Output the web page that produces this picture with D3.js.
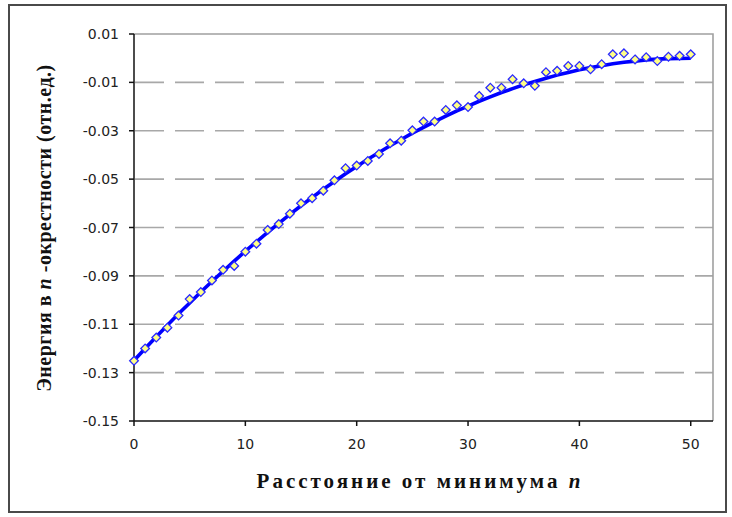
<!DOCTYPE html>
<html>
<head>
<meta charset="utf-8">
<script src="https://cdn.jsdelivr.net/npm/d3@7"></script>
<style>
  html, body { margin: 0; padding: 0; background: #fff; }
  svg { display: block; }
  .tick-label { font-family: "DejaVu Sans", Verdana, sans-serif; font-size: 14px; fill: #222; }
  .title { font-family: "Liberation Serif", "Times New Roman", serif; font-weight: bold; fill: #111; }
</style>
</head>
<body>
<svg width="732" height="517"></svg>
<script>
// distance from minimum n
const distances = d3.range(0, 51)
// measured energy (markers)
const energy = [
  -0.1251, -0.1200, -0.1155, -0.1114, -0.1064, -0.0996, -0.0967, -0.0919, -0.0875, -0.0859,
  -0.0800, -0.0767, -0.0710, -0.0686, -0.0643, -0.0600, -0.0579, -0.0548, -0.0505, -0.0455,
  -0.0444, -0.0425, -0.0396, -0.0352, -0.0341, -0.0298, -0.0262, -0.0262, -0.0214, -0.0195,
  -0.0202, -0.0156, -0.0122, -0.0122, -0.0087, -0.0104, -0.0114, -0.0058, -0.0052, -0.0032,
  -0.0032, -0.0046, -0.0025, 0.0016, 0.0020, -0.0005, 0.0004, -0.0012, 0.0006, 0.0010,
  0.0016
]
// trend line
const trend = [
  -0.1250, -0.1200, -0.1152, -0.1104, -0.1057, -0.1012, -0.0967, -0.0923, -0.0881, -0.0839,
  -0.0798, -0.0759, -0.0720, -0.0683, -0.0646, -0.0610, -0.0576, -0.0542, -0.0510, -0.0478,
  -0.0448, -0.0418, -0.0390, -0.0362, -0.0336, -0.0310, -0.0286, -0.0262, -0.0240, -0.0218,
  -0.0198, -0.0178, -0.0160, -0.0142, -0.0126, -0.0110, -0.0096, -0.0083, -0.0070, -0.0059,
  -0.0048, -0.0039, -0.0031, -0.0023, -0.0017, -0.0012, -0.0007, -0.0004, -0.0002, -0.0001,
  0.0000
]
const xTicks = [0, 10, 20, 30, 40, 50]
const yTicks = [0.01, -0.01, -0.03, -0.05, -0.07, -0.09, -0.11, -0.13, -0.15]
const yTickLabels = ['0.01', '-0.01', '-0.03', '-0.05', '-0.07', '-0.09', '-0.11', '-0.13', '-0.15']

const svg = d3.select('svg')

// outer frame
svg.append('rect')
  .attr('x', 9).attr('y', 5).attr('width', 717).attr('height', 507)
  .attr('fill', '#fff').attr('stroke', '#4a4a4a').attr('stroke-width', 2)

const margin = { top: 34, right: 19, bottom: 96, left: 134 }
const width = 732 - margin.left - margin.right
const height = 517 - margin.top - margin.bottom

const x = d3.scaleLinear().domain([0, 52]).range([0, width])
const y = d3.scaleLinear().domain([-0.15, 0.01]).range([height, 0])

const g = svg.append('g')
  .attr('transform', `translate(${margin.left},${margin.top})`)

// gridlines (dashed)
g.selectAll('.grid')
  .data(yTicks.filter(d => d < 0.005 && d > -0.145))
  .enter().append('line')
  .attr('class', 'grid')
  .attr('x1', 1).attr('x2', width)
  .attr('y1', d => y(d)).attr('y2', d => y(d))
  .attr('stroke', '#a8a8a8').attr('stroke-width', 1.6)
  .attr('stroke-dasharray', '29,11')

// plot area top/right border
g.append('path')
  .attr('d', `M0,${y(0.01)}H${width}V${height}`)
  .attr('fill', 'none').attr('stroke', '#a0a0a0').attr('stroke-width', 1.6)

// y axis
const yAxis = g.append('g')
yAxis.append('line')
  .attr('x1', 0).attr('x2', 0).attr('y1', 0).attr('y2', height)
  .attr('stroke', '#111').attr('stroke-width', 1.5)
yAxis.selectAll('.ytick')
  .data(yTicks)
  .enter().append('line')
  .attr('x1', -5).attr('x2', 0)
  .attr('y1', d => y(d)).attr('y2', d => y(d))
  .attr('stroke', '#111').attr('stroke-width', 1.5)
yAxis.selectAll('.ylabel')
  .data(yTicks)
  .enter().append('text')
  .attr('class', 'tick-label')
  .attr('x', -15)
  .attr('y', d => y(d))
  .attr('dy', '0.36em')
  .attr('text-anchor', 'end')
  .text((d, i) => yTickLabels[i])

// x axis
const xAxis = g.append('g').attr('transform', `translate(0,${height})`)
xAxis.append('line')
  .attr('x1', 0).attr('x2', width)
  .attr('stroke', '#111').attr('stroke-width', 1.5)
xAxis.selectAll('.xtick')
  .data(xTicks)
  .enter().append('line')
  .attr('x1', d => x(d)).attr('x2', d => x(d))
  .attr('y1', 0).attr('y2', 5)
  .attr('stroke', '#111').attr('stroke-width', 1.5)
xAxis.selectAll('.xlabel')
  .data(xTicks)
  .enter().append('text')
  .attr('class', 'tick-label')
  .attr('x', d => x(d))
  .attr('y', 23)
  .attr('dy', '0.36em')
  .attr('text-anchor', 'middle')
  .text(d => d)

// trend line
const line = d3.line()
  .x((d, i) => x(distances[i]))
  .y(d => y(d))
g.append('path')
  .datum(trend)
  .attr('fill', 'none')
  .attr('stroke', '#0000ff')
  .attr('stroke-width', 3.6)
  .attr('stroke-linejoin', 'round')
  .attr('d', line)

// markers (diamonds)
const diamond = d3.symbol().type(d3.symbolDiamond2).size(48)
g.selectAll('.pt')
  .data(energy)
  .enter().append('path')
  .attr('class', 'pt')
  .attr('transform', (d, i) => `translate(${x(distances[i])},${y(d)})`)
  .attr('d', diamond)
  .attr('fill', '#ffff88')
  .attr('stroke', '#2a2aff')
  .attr('stroke-width', 1.3)

// axis titles
const xTitle = svg.append('text')
  .attr('class', 'title')
  .attr('x', 420).attr('y', 488)
  .attr('text-anchor', 'middle')
  .style('font-size', '21px')
  .style('letter-spacing', '3px')
xTitle.append('tspan').text('Расстояние от минимума  ')
xTitle.append('tspan').style('font-style', 'italic').text('n')

const yTitle = svg.append('text')
  .attr('class', 'title')
  .attr('transform', 'translate(51,228) rotate(-90)')
  .attr('text-anchor', 'middle')
  .style('font-size', '20px')
  .style('letter-spacing', '0.5px')
yTitle.append('tspan').text('Энергия в ')
yTitle.append('tspan').style('font-style', 'italic').text('n')
yTitle.append('tspan').text(' -окрестности (отн.ед.)')
</script>
</body>
</html>
